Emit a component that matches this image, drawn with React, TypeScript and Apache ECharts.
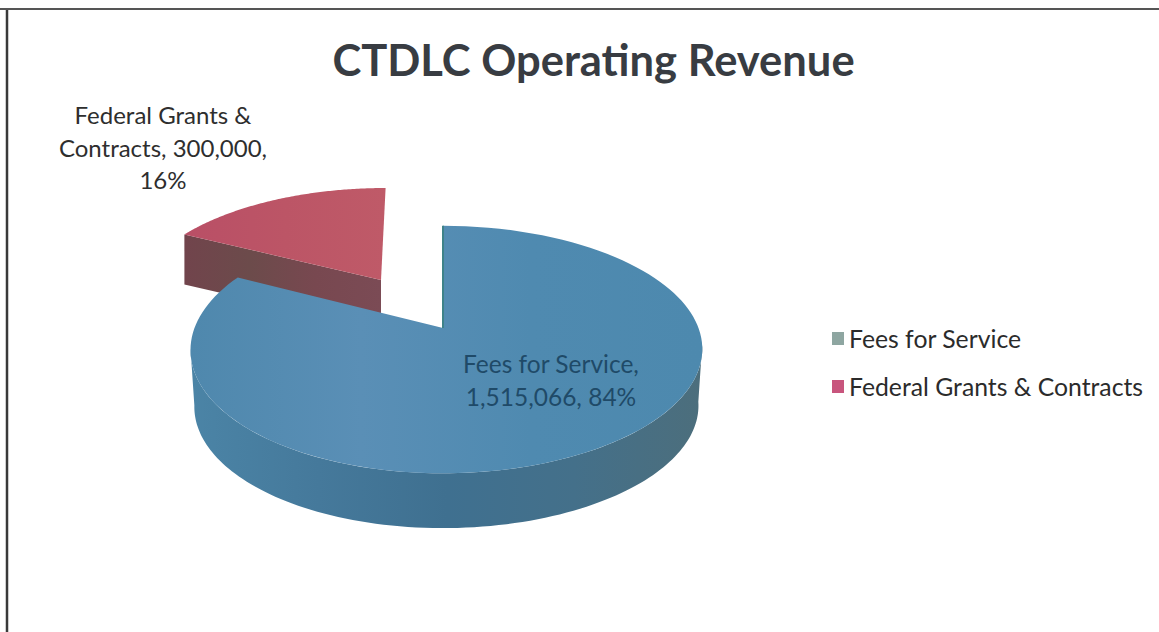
import React, { useEffect, useRef } from "react";
import * as echarts from "echarts";

const TITLE = "CTDLC Operating Revenue";
const sliceNames = ["Fees for Service", "Federal Grants & Contracts"];
const sliceValues = [1515066, 300000];
// Shares as printed on the chart's own labels
const slicePercents = [84, 16];
const legendColors = ["#8ea6a1", "#c8557d"];
const labelLines = [
  ["Fees for Service,", "1,515,066, 84%"],
  ["Federal Grants &", "Contracts, 300,000,", "16%"],
];

const FONT = "Lato, 'Open Sans', sans-serif";
const K = 0.174; // perspective: far side is compressed
const TWIST = 0.103; // angular foreshortening of the tilted disc
const STEPS = 120;

type Frame = {
  ax: number; ay: number; // wedge apex on top face
  rx: number; ry: number;
  lean: number; // sideways bulge of the rim
  shear: number;
  depth: number;
  rimDrop: number;
};

const frames: Frame[] = [
  { ax: 443, ay: 328, rx: 252, ry: 120, lean: 3.5, shear: 0, depth: 57, rimDrop: 0.985 },
  { ax: 381, ay: 280, rx: 241, ry: 108, lean: 0, shear: -0.05, depth: 50, rimDrop: 1 },
];

function rim(f: Frame, theta: number, bottom: boolean): number[] {
  const phi = theta + TWIST * Math.sin(2 * theta);
  const u = Math.sin(phi);
  const v = Math.cos(phi);
  const w = 1 + K * v;
  const s = bottom ? f.rimDrop : 1;
  const dx = (f.rx * u) / w;
  const dy = (-f.ry * v) / w;
  return [
    f.ax + s * dx + f.lean * u * u + f.shear * dy,
    f.ay + s * dy + (bottom ? f.depth : 0),
  ];
}

function arcPoints(f: Frame, a: number, b: number, bottom: boolean): number[][] {
  const pts: number[][] = [];
  for (let i = 0; i <= STEPS; i++) pts.push(rim(f, a + ((b - a) * i) / STEPS, bottom));
  return pts;
}

const hGrad = (stops: string[]) =>
  new echarts.graphic.LinearGradient(
    0, 0, 1, 0,
    stops.map((color, i) => ({ offset: i / (stops.length - 1), color }))
  );

function sliceRange(index: number): [number, number] {
  const total = slicePercents.reduce((a, b) => a + b, 0);
  const before = slicePercents.slice(0, index).reduce((a, b) => a + b, 0);
  return [
    (before / total) * 2 * Math.PI,
    ((before + slicePercents[index]) / total) * 2 * Math.PI,
  ];
}

const renderFees = (_p: any, api: any) => {
  const f = frames[0];
  const [a, b] = sliceRange(0);
  const sideA = (100 * Math.PI) / 180;
  const sideB = (258 * Math.PI) / 180;
  const apex = [f.ax, f.ay];
  return {
    type: "group",
    silent: true,
    children: [
      {
        type: "polygon",
        shape: { points: [...arcPoints(f, sideA, sideB, false), ...arcPoints(f, sideB, sideA, true)] },
        style: { fill: hGrad(["#4b84a6", "#45799b", "#3f7090", "#44708a", "#4c6e7c"]) },
      },
      {
        type: "polygon",
        shape: { points: [apex, ...arcPoints(f, a, b, false)] },
        style: { fill: hGrad(["#4f88ad", "#5a8fb6", "#4f8ab0", "#4d89ae"]) },
      },
      {
        type: "line",
        shape: { x1: f.ax, y1: f.ay, x2: f.ax, y2: f.ay - f.ry / (1 + K) },
        style: { stroke: "#3f8389", lineWidth: 2 },
      },
      {
        type: "text",
        style: {
          text: labelLines[0].join("\n"),
          x: 551,
          y: 380,
          align: "center",
          verticalAlign: "middle",
          fill: "#1f4a68",
          fontSize: 24.5,
          lineHeight: 33,
          fontFamily: FONT,
        },
      },
    ],
  };
};

const renderGrants = (_p: any, api: any) => {
  const f = frames[1];
  const [a, b] = sliceRange(1);
  const apex = [f.ax, f.ay];
  const corner = rim(f, a, false);
  const cornerLow = rim(f, a, true);
  return {
    type: "group",
    silent: true,
    children: [
      {
        type: "polygon",
        shape: { points: [corner, apex, [f.ax, f.ay + f.depth], cornerLow] },
        style: { fill: hGrad(["#71444c", "#6c4b4b", "#784850", "#7b4b55"]) },
      },
      {
        type: "polygon",
        shape: { points: [apex, ...arcPoints(f, a, b, false)] },
        style: { fill: hGrad(["#b94f66", "#bc5566", "#bf5a68"]) },
      },
      {
        type: "text",
        style: {
          text: labelLines[1].join("\n"),
          x: 163,
          y: 147,
          align: "center",
          verticalAlign: "middle",
          fill: "#2e2e2e",
          fontSize: 24,
          lineHeight: 32.5,
          fontFamily: FONT,
        },
      },
    ],
  };
};

export default function App() {
  const ref = useRef<HTMLDivElement>(null);
  useEffect(() => {
    const chart = echarts.init(ref.current!, undefined, { renderer: "svg" });
    chart.setOption({
      animation: false,
      backgroundColor: "#ffffff",
      title: {
        text: TITLE,
        left: 588.5,
        top: 32,
        textAlign: "center",
        textStyle: { fontFamily: FONT, fontWeight: "bold", fontSize: 43.5, color: "#383c42" },
      },
      legend: {
        orient: "vertical",
        left: 827,
        top: 321,
        itemWidth: 12,
        itemHeight: 13,
        itemGap: 23,
        icon: "rect",
        selectedMode: false,
        textStyle: { fontFamily: FONT, fontSize: 24.75, color: "#2b2b2b", padding: [0, 0, 0, 0] },
        data: sliceNames.map((name, i) => ({ name, itemStyle: { color: legendColors[i] } })),
      },
      graphic: [
        { type: "line", shape: { x1: 7, y1: 9, x2: 7, y2: 632 }, style: { stroke: "#3a3a3a", lineWidth: 2.5 } },
        { type: "line", shape: { x1: 0, y1: 9, x2: 1159, y2: 9 }, style: { stroke: "#555555", lineWidth: 2 } },
      ],
      series: [
        {
          type: "custom",
          name: sliceNames[1],
          coordinateSystem: "none",
          z: 2,
          itemStyle: { color: legendColors[1] },
          data: [[sliceValues[1]]],
          renderItem: renderGrants,
        },
        {
          type: "custom",
          name: sliceNames[0],
          coordinateSystem: "none",
          z: 3,
          itemStyle: { color: legendColors[0] },
          data: [[sliceValues[0]]],
          renderItem: renderFees,
        },
      ],
    });
    return () => chart.dispose();
  }, []);
  return (
    <div
      ref={ref}
      style={{ position: "fixed", left: 0, top: 0, width: 1159, height: 632 }}
    />
  );
}
